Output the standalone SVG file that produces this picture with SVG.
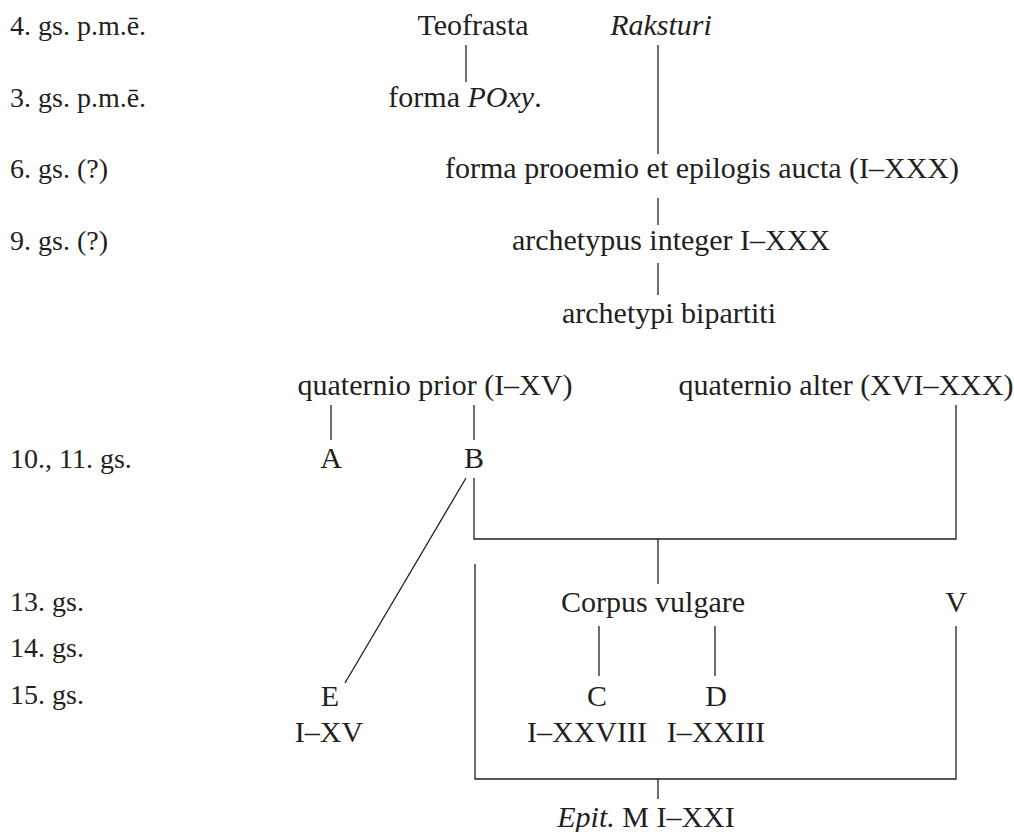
<svg xmlns="http://www.w3.org/2000/svg" width="1014" height="832" viewBox="0 0 1014 832">
<style>
text{font-family:"Liberation Serif","Times New Roman",serif;font-size:30px;fill:#231f20}
#timeline text{font-size:28px}
.m{text-anchor:middle}
.i{font-style:italic}
.c{stroke:#231f20;stroke-width:1.3;fill:none}
</style>
<rect width="1014" height="832" fill="#fff"/>
<g id="timeline">
<text x="10" y="35">4. gs. p.m.ē.</text>
<text x="10" y="107">3. gs. p.m.ē.</text>
<text x="10" y="178">6. gs. (?)</text>
<text x="10" y="250">9. gs. (?)</text>
<text x="10" y="468">10., 11. gs.</text>
<text x="10" y="611">13. gs.</text>
<text x="10" y="657">14. gs.</text>
<text x="10" y="704">15. gs.</text>
</g>
<g id="connectors" class="c">
<path class="c" d="M466,45V82"/>
<path class="c" d="M658,45V154"/>
<path class="c" d="M658,198V225"/>
<path class="c" d="M658,263V295"/>
<path class="c" d="M331,405V440"/>
<path class="c" d="M474,405V440"/>
<path class="c" d="M474,478V539H956V405"/>
<path class="c" d="M658,539V584"/>
<path class="c" d="M466,478L345,683"/>
<path class="c" d="M599,626V676"/>
<path class="c" d="M715,626V676"/>
<path class="c" d="M475,564V779H956V626"/>
<path class="c" d="M658,779V799"/>
</g>
<g id="teofrasta"><text class="m" x="473" y="35">Teofrasta</text></g>
<g id="raksturi"><text class="m i" x="661" y="35">Raksturi</text></g>
<g id="poxy"><text class="m" x="465" y="107">forma <tspan class="i">POxy</tspan>.</text></g>
<g id="prooemio"><text class="m" x="702" y="178">forma prooemio et epilogis aucta (I–XXX)</text></g>
<g id="integer"><text class="m" x="671" y="250">archetypus integer I–XXX</text></g>
<g id="bipartiti"><text class="m" x="669" y="323">archetypi bipartiti</text></g>
<g id="prior"><text class="m" x="435" y="395">quaternio prior (I–XV)</text></g>
<g id="alter"><text class="m" x="846" y="395">quaternio alter (XVI–XXX)</text></g>
<g id="A"><text class="m" x="331" y="468">A</text></g>
<g id="B"><text class="m" x="474" y="468">B</text></g>
<g id="corpus"><text class="m" x="653" y="612">Corpus vulgare</text></g>
<g id="V"><text class="m" x="956" y="612">V</text></g>
<g id="E"><text class="m" x="330" y="706">E</text><text class="m" x="329" y="742">I–XV</text></g>
<g id="C"><text class="m" x="597" y="706">C</text><text class="m" x="587" y="742">I–XXVIII</text></g>
<g id="D"><text class="m" x="716" y="706">D</text><text class="m" x="716" y="742">I–XXIII</text></g>
<g id="M"><text class="m" x="646" y="827"><tspan class="i">Epit.</tspan> M I–XXI</text></g>
</svg>
